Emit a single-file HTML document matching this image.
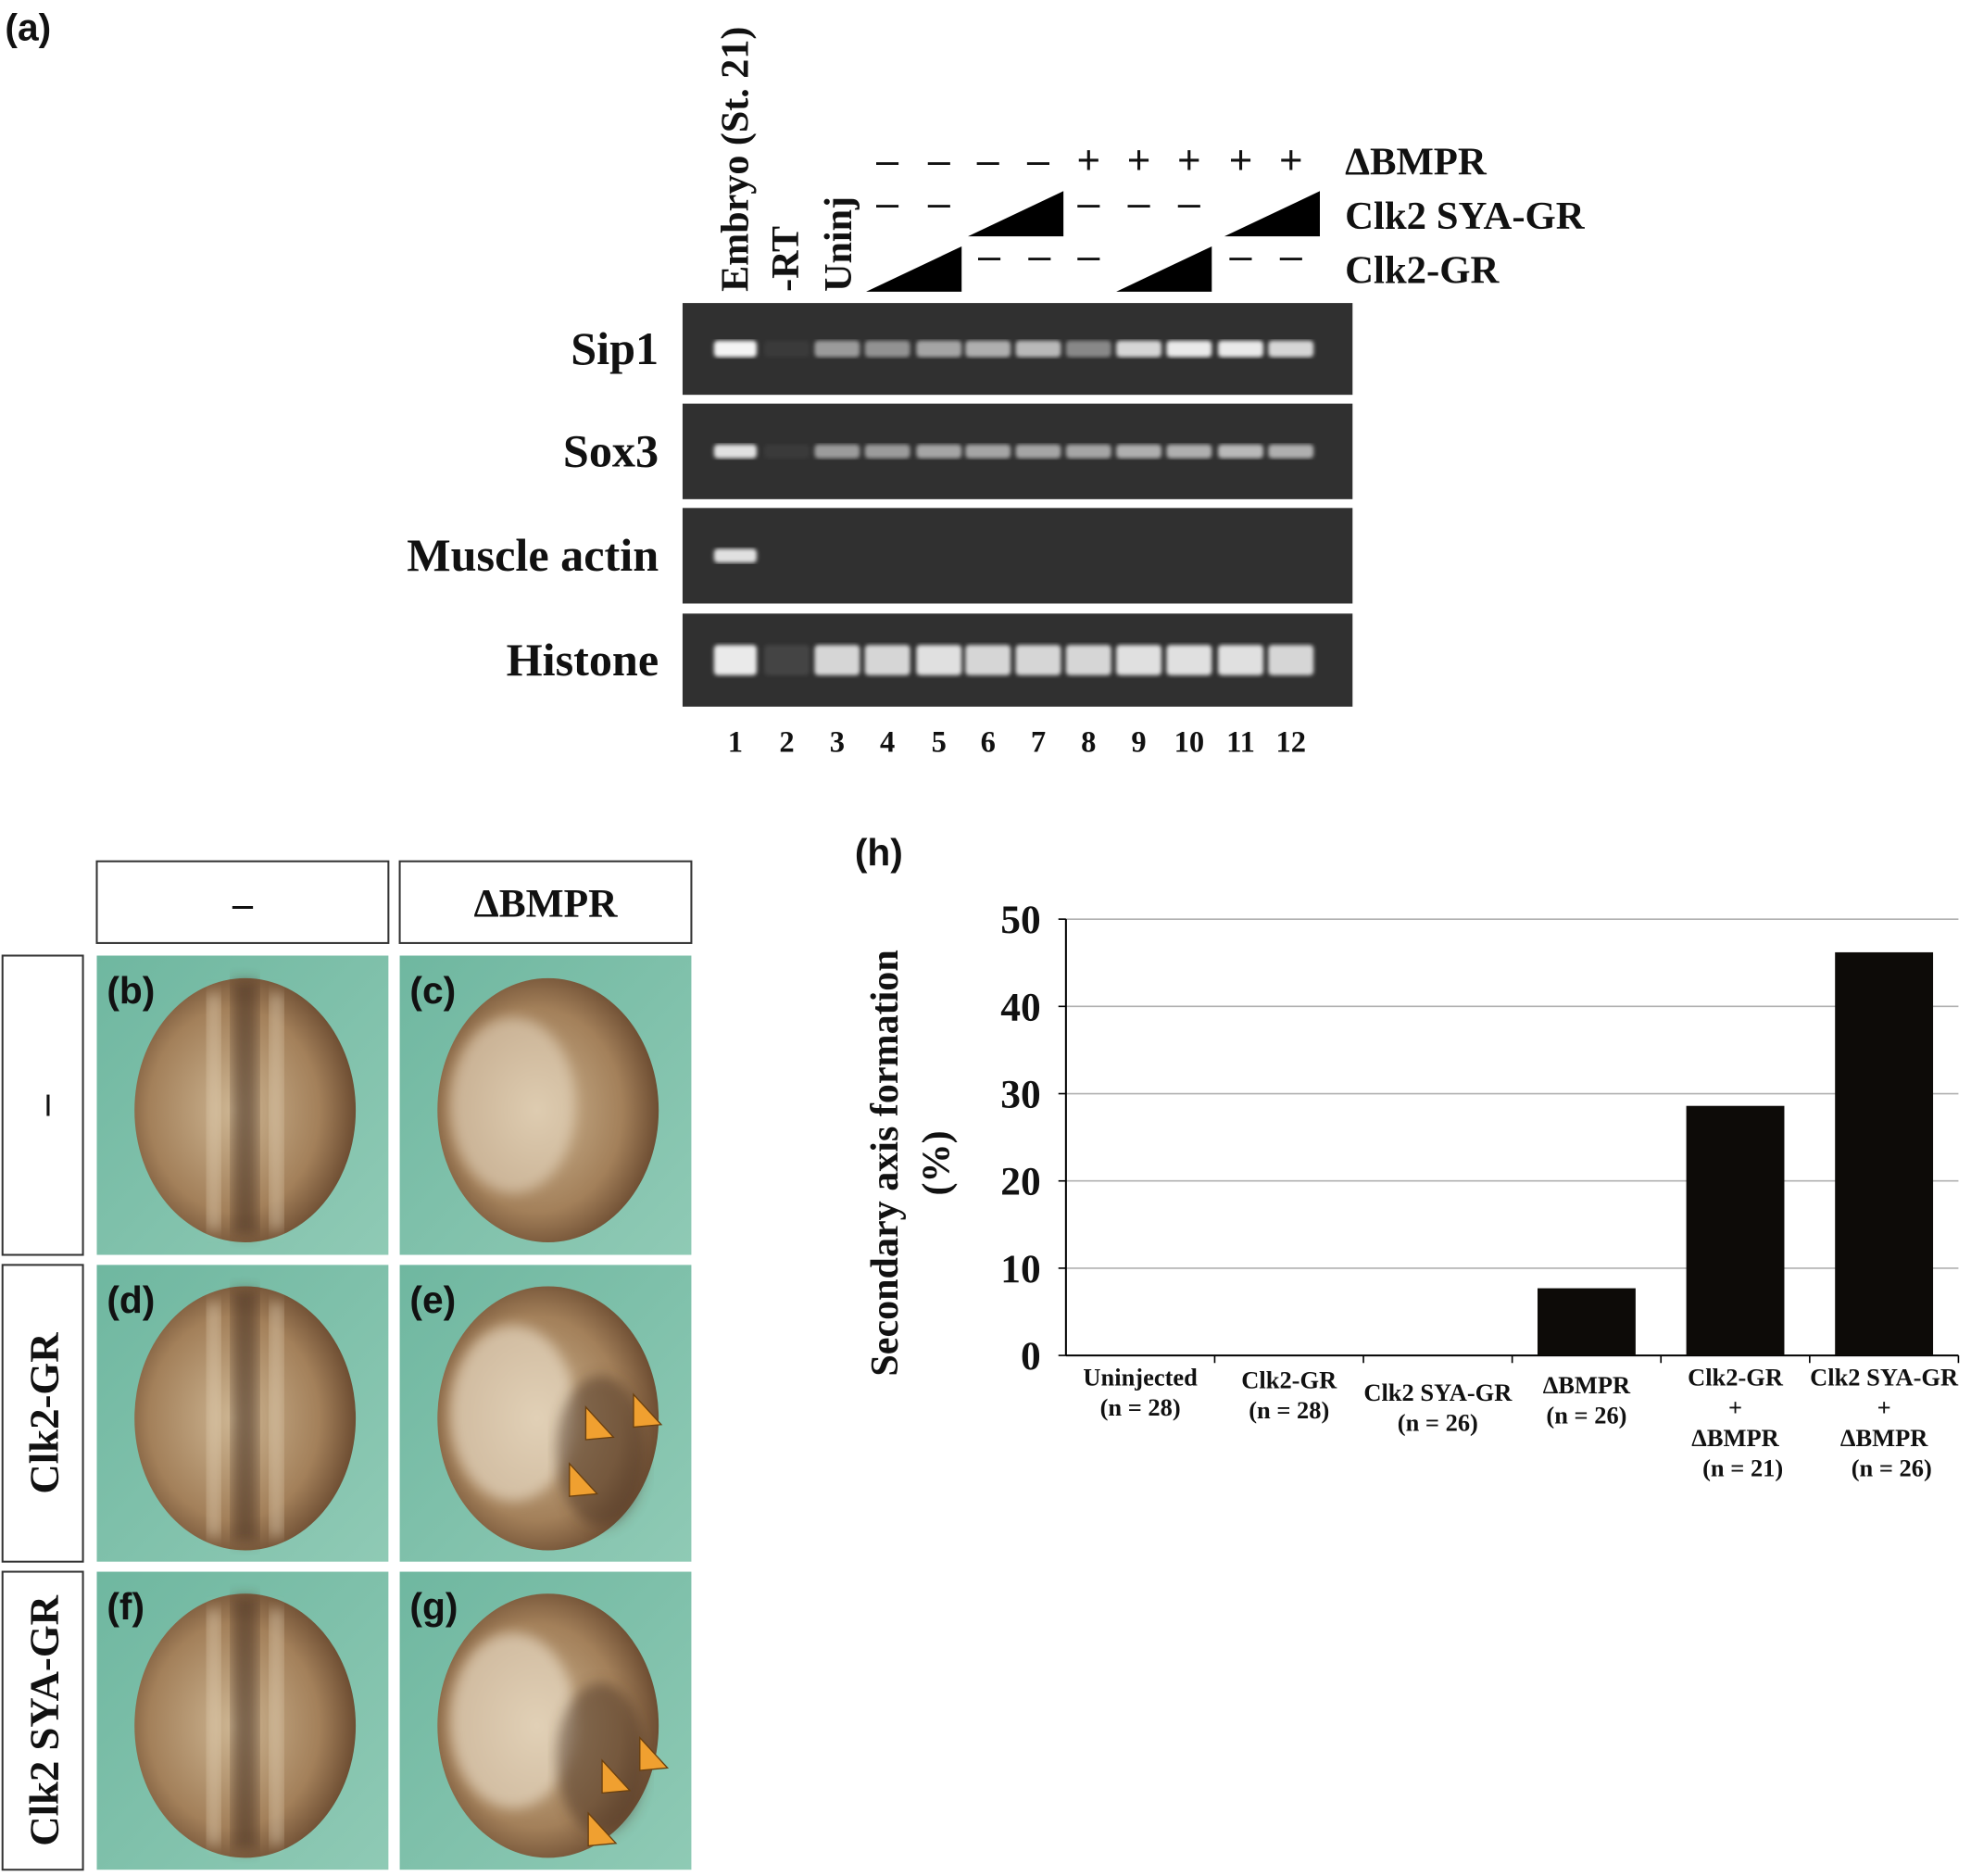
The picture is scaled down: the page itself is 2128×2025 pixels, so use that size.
<!DOCTYPE html>
<html><head><meta charset="utf-8"><style>
html,body{margin:0;padding:0;background:#fff}
svg{display:block}
text{font-family:"Liberation Serif",serif;font-weight:bold;fill:#111}
</style></head><body>
<svg id="fig" width="2128" height="2025" viewBox="0 0 1568 1492" preserveAspectRatio="none" xmlns="http://www.w3.org/2000/svg">
<defs>
<filter id="blur1"><feGaussianBlur stdDeviation="1.6"/></filter>
<filter id="blur3"><feGaussianBlur stdDeviation="5"/></filter>
<radialGradient id="emb" cx="0.45" cy="0.5" r="0.55"><stop offset="0" stop-color="#cdb592"/><stop offset="0.7" stop-color="#a3805a"/><stop offset="1" stop-color="#6d4d32"/></radialGradient>
<linearGradient id="green" x1="0" y1="0" x2="1" y2="1"><stop offset="0" stop-color="#6fb7a0"/><stop offset="1" stop-color="#8fcab5"/></linearGradient>
</defs>
<text x="4" y="32" font-size="30" style="font-family:'Liberation Sans',sans-serif">(a)</text>
<g id="gel"></g>
<g id="photos"></g>
<g id="chart"></g>
</svg>
<script>
const NS="http://www.w3.org/2000/svg";
function mk(p,tag,at,txt){const e=document.createElementNS(NS,tag);for(const k in at)e.setAttribute(k,at[k]);if(txt!==undefined)e.textContent=txt;p.appendChild(e);return e;}
// ---------- gel ----------
const gel=document.getElementById('gel');
const laneX=[585,626,666,706,747,786,826,866,906,946,987,1027];
const rows=[{n:'Sip1',y:241,h:73},{n:'Sox3',y:321,h:76},{n:'Muscle actin',y:404,h:76},{n:'Histone',y:488,h:74}];
const sip1=[1,0.05,0.55,0.5,0.6,0.65,0.7,0.45,0.85,0.95,0.95,0.85];
const sox3=[0.9,0.05,0.55,0.55,0.6,0.6,0.6,0.6,0.65,0.65,0.7,0.65];
const actin=[0.9,0,0,0,0,0,0,0,0,0,0,0];
const hist=[0.95,0.1,0.85,0.85,0.9,0.85,0.85,0.85,0.9,0.9,0.9,0.85];
const bandData=[sip1,sox3,actin,hist];
const bandH=[13,11,11,24];
rows.forEach((r,i)=>{
  const box=mk(gel,'rect',{x:543,y:r.y,width:533,height:r.h,fill:'#303030'});
  
  
  const lab=mk(gel,'text',{x:524,y:r.y+r.h/2+12,'font-size':37,'text-anchor':'end'},r.n);
  
  
  bandData[i].forEach((v,j)=>{
    if(v<=0)return;
    const w=j==0?34:36;
    const b=mk(gel,'rect',{x:laneX[j]-w/2,y:r.y+r.h/2-bandH[i]/2,width:w,height:bandH[i],rx:3,fill:'#f4f4f4',opacity:v,filter:'url(#blur1)'});
    
    
  });
});
laneX.forEach((x,j)=>{
  const t=mk(gel,'text',{x:x,y:598,'font-size':24,'text-anchor':'middle'},String(j+1));
  
  
});
[['Embryo (St. 21)',595],['-RT',635],['Uninj',677]].forEach(([s,x])=>{
  const t=mk(gel,'text',{x:0,y:0,'font-size':31,transform:`translate(${x},232) rotate(-90)`},s);
  
  
});
const bm=['-','-','-','-','+','+','+','+','+'];
const bmX=[706,747,786,826,866,906,946,987,1027];
bm.forEach((s,i)=>{
  const t=mk(gel,'text',{x:bmX[i],y:138,'font-size':32,'text-anchor':'middle',style:"font-family:'Liberation Sans',sans-serif;font-weight:normal"},s=='-'?'–':'+');
  
  
});
[[706,172],[747,172],[866,172],[906,172],[946,172],[787,214],[827,214],[866,214],[987,214],[1027,214]].forEach(([x,y])=>{
  const t=mk(gel,'text',{x:x,y:y,'font-size':32,'text-anchor':'middle',style:"font-family:'Liberation Sans',sans-serif;font-weight:normal"},'–');
  
  
});
[[770,846,152,188],[974,1050,152,188],[689,765,196,232],[888,964,196,232]].forEach(([x1,x2,y1,y2])=>{
  const p=mk(gel,'polygon',{points:`${x1},${y2} ${x2},${y1} ${x2},${y2}`,fill:'#000'});
  
  
});
[['ΔBMPR',1070,139],['Clk2 SYA-GR',1070,182],['Clk2-GR',1070,225]].forEach(([s,x,y])=>{
  const t=mk(gel,'text',{x:x,y:y,'font-size':31.5},s);
  
  
});
// ---------- photos ----------
const ph=document.getElementById('photos');
[['–',77,193],['ΔBMPR',318,434]].forEach(([s,x,c])=>{
  const r=mk(ph,'rect',{x:x,y:685,width:232,height:65,fill:'#fff',stroke:'#333','stroke-width':1.5});
  
  
  const t=mk(ph,'text',{x:c,y:729,'font-size':32,'text-anchor':'middle'},s);
  
  
});
const rowY=[[760,238],[1006,236],[1250,237]];
['–','Clk2-GR','Clk2 SYA-GR'].forEach((s,i)=>{
  const [y,h]=rowY[i];
  const r=mk(ph,'rect',{x:2,y:y,width:64,height:h,fill:'#fff',stroke:'#333','stroke-width':1.5});
  
  
  const t=mk(ph,'text',{x:0,y:0,'font-size':33,'text-anchor':'middle',transform:`translate(46,${y+h/2}) rotate(-90)`},s);
  
  
});
const labs=['(b)','(c)','(d)','(e)','(f)','(g)'];
for(let i=0;i<3;i++)for(let j=0;j<2;j++){
  const [y,h]=rowY[i];const x=j?318:77;
  const g=mk(ph,'g',{});
  
  
  mk(g,'rect',{x:x,y:y,width:232,height:h,fill:'url(#green)'});
  mk(g,'ellipse',{cx:x+118,cy:y+h/2+4,rx:88,ry:105,fill:'url(#emb)'});
  if(j==0){
    mk(g,'rect',{x:x+108,y:y+20,width:20,height:h-36,fill:'#4a3020',opacity:0.6,filter:'url(#blur3)'});
    mk(g,'rect',{x:x+88,y:y+30,width:10,height:h-50,fill:'#eadac0',opacity:0.5,filter:'url(#blur3)'});
    mk(g,'rect',{x:x+138,y:y+30,width:10,height:h-50,fill:'#eadac0',opacity:0.5,filter:'url(#blur3)'});
  } else {
    mk(g,'ellipse',{cx:x+90,cy:y+h/2,rx:50,ry:70,fill:'#efe3cf',opacity:i==0?0.5:0.6,filter:'url(#blur3)'});
    if(i>0)mk(g,'ellipse',{cx:x+160,cy:y+h/2+30,rx:35,ry:60,fill:'#4a3020',opacity:0.5,filter:'url(#blur3)'});
  }
  const t=mk(g,'text',{x:x+8,y:y+38,'font-size':30,style:"font-family:'Liberation Sans',sans-serif;font-weight:bold"},labs[i*2+j]);
  
  
}
[[476,1135],[514,1125],[463,1180],[489,1416],[519,1398],[478,1458]].forEach(([x,y])=>{
  const a=mk(ph,'polygon',{points:`${x-10},${y-16} ${x+12},${y+8} ${x-10},${y+10}`,fill:'#f0a030',stroke:'#6a4010','stroke-width':1});
  
  
});
// ---------- chart ----------
const categories=['Uninjected','Clk2-GR','Clk2 SYA-GR','ΔBMPR','Clk2-GR + ΔBMPR','Clk2 SYA-GR + ΔBMPR'];
const values=[0,0,0,7.7,28.6,46.2];
const nLabels=['(n = 28)','(n = 28)','(n = 26)','(n = 26)','(n = 21)','(n = 26)'];
const yTicks=[0,10,20,30,40,50];
const ch=document.getElementById('chart');
const X0=848,X1=1558,Y0=1078,Y50=731,YMAX=50;
const yS=v=>Y0-(v/YMAX)*(Y0-Y50);
const bw=(X1-X0)/categories.length;
const xS=i=>X0+bw*(i+0.5);
yTicks.forEach(v=>{
  if(v>0){const l=mk(ch,'line',{x1:X0,x2:X1,y1:yS(v),y2:yS(v),stroke:'#b0b0b0','stroke-width':1.2});
  
  }
  const tk=mk(ch,'line',{x1:X0-6,x2:X0,y1:yS(v),y2:yS(v),stroke:'#000','stroke-width':1.2});
  
  
  const t=mk(ch,'text',{x:X0-20,y:yS(v)+11,'font-size':32,'text-anchor':'end'},String(v));
  
  
});
const ya=mk(ch,'line',{x1:X0,x2:X0,y1:Y50,y2:Y0,stroke:'#000','stroke-width':1.5});


const xa=mk(ch,'line',{x1:X0,x2:X1,y1:Y0,y2:Y0,stroke:'#000','stroke-width':1.5});


categories.forEach((c,i)=>{
  const tk=mk(ch,'line',{x1:X0+bw*(i+1),x2:X0+bw*(i+1),y1:Y0,y2:Y0+6,stroke:'#000','stroke-width':1.2});
  
  
  if(values[i]>0){
    const b=mk(ch,'rect',{x:xS(i)-39,y:yS(values[i]),width:78,height:Y0-yS(values[i]),fill:'#0d0b08'});
    
    
  }
  const parts=c.split(' + ');
  const lines=parts.length>1?[parts[0],'+',parts[1]]:[c];
  const off=[0,2,12,6,0,0][i];
  lines.concat([nLabels[i]]).forEach((s,k)=>{
    const t=mk(ch,'text',{x:xS(i)+(k==lines.length&&parts.length>1?6:0),y:Y0+24+off+k*24,'font-size':19.5,'text-anchor':'middle'},s);
    
    
  });
});
const yt=mk(ch,'text',{x:0,y:0,'font-size':31,'text-anchor':'middle',transform:'translate(714,925) rotate(-90)'},'Secondary  axis  formation');


const yt2=mk(ch,'text',{x:0,y:0,'font-size':31,'text-anchor':'middle',transform:'translate(755,925) rotate(-90)'},'(%)');


const hl=mk(ch,'text',{x:680,y:688,'font-size':30,style:"font-family:'Liberation Sans',sans-serif;font-weight:bold"},'(h)');


</script>
</body></html>
